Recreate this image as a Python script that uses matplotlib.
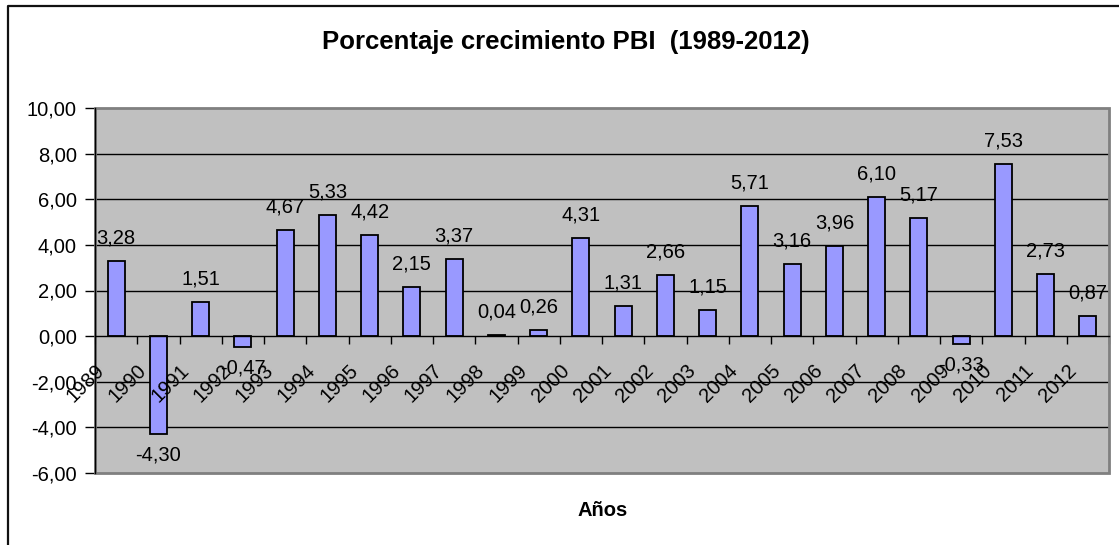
import matplotlib
matplotlib.use("Agg")
import matplotlib.pyplot as plt
from matplotlib.patches import Rectangle
from matplotlib.lines import Line2D
from matplotlib.transforms import ScaledTranslation
import numpy as np

years = ["1989", "1990", "1991", "1992", "1993", "1994", "1995", "1996", "1997", "1998",
         "1999", "2000", "2001", "2002", "2003", "2004", "2005", "2006", "2007", "2008",
         "2009", "2010", "2011", "2012"]
growth = [3.28, -4.30, 1.51, -0.47, 4.67, 5.33, 4.42, 2.15, 3.37, 0.04,
          0.26, 4.31, 1.31, 2.66, 1.15, 5.71, 3.16, 3.96, 6.10, 5.17,
          -0.33, 7.53, 2.73, 0.87]
yticks = [-6, -4, -2, 0, 2, 4, 6, 8, 10]
title = "Porcentaje crecimiento PBI  (1989-2012)"
xlabel = "Años"

plt.rcParams['font.family'] = ['Liberation Sans', 'DejaVu Sans']

W, H = 1119, 545
dpi = 100
fig = plt.figure(figsize=(W / dpi, H / dpi), dpi=dpi)
fig.patch.set_facecolor('white')

# chart outer border (left and top)
fig.add_artist(Line2D([8 / W, 8 / W, 1.0], [0.0, 1 - 6 / H, 1 - 6 / H],
                      transform=fig.transFigure, color='#111111', lw=1.6))

ax = fig.add_axes([95 / W, (H - 473) / H, 1014 / W, 365 / H])
ax.set_facecolor('#C0C0C0')
x = np.arange(len(years))
ax.set_xlim(-0.5, len(years) - 0.5)
ax.set_ylim(-6, 10)

for yv in yticks:
    if yv not in (-6, 0, 10):
        ax.axhline(yv, color='black', lw=1.0, zorder=1)

ax.bar(x, growth, width=0.4, color='#9999FF', edgecolor='black', linewidth=1.3, zorder=3)

# frame
for s in ['top', 'right', 'left', 'bottom']:
    ax.spines[s].set_visible(False)
ax.add_patch(Rectangle((0, 0), 1, 1, transform=ax.transAxes, fill=False,
                       edgecolor='#808080', lw=2.0, zorder=2, clip_on=False))
ax.spines['left'].set_visible(True)
ax.spines['left'].set_color('black')
ax.spines['left'].set_linewidth(1.0)
ax.spines['left'].set_zorder(4)
ax.spines['bottom'].set_visible(True)
ax.spines['bottom'].set_position(('data', 0))
ax.spines['bottom'].set_color('black')
ax.spines['bottom'].set_linewidth(1.0)
ax.spines['bottom'].set_zorder(4)

ax.set_yticks(yticks)
ax.set_yticklabels([f"{v:.2f}".replace('.', ',') for v in yticks], fontsize=14.5)
ax.tick_params(axis='y', direction='out', length=7, width=1, pad=6, colors='black')

ax.set_xticks(np.arange(-0.5, len(years), 1.0))
ax.set_xticklabels([])
ax.tick_params(axis='x', direction='out', length=6, width=1)

# category labels, rotated, hanging from zero line
for i, lab in enumerate(years):
    tr = ax.transData + ScaledTranslation(-8 / dpi, -25 / dpi, fig.dpi_scale_trans)
    ax.text(i, 0, lab, transform=tr, rotation=45, ha='right', va='top',
            fontsize=14.5, zorder=5)

# data labels
for i, v in enumerate(growth):
    off = 23 if v >= 0 else -21
    tr = ax.transData + ScaledTranslation(0, off / dpi, fig.dpi_scale_trans)
    ax.text(i, v, f"{v:.2f}".replace('.', ','), transform=tr, ha='center', va='center',
            fontsize=14.5, zorder=6)

fig.text(566 / W, 1 - 42 / H, title, ha='center', va='center', fontsize=18.5,
         fontweight='bold')
fig.text(603 / W, 1 - 510 / H, xlabel, ha='center', va='center', fontsize=14.5,
         fontweight='bold')

fig.savefig('out.png', dpi=dpi)
